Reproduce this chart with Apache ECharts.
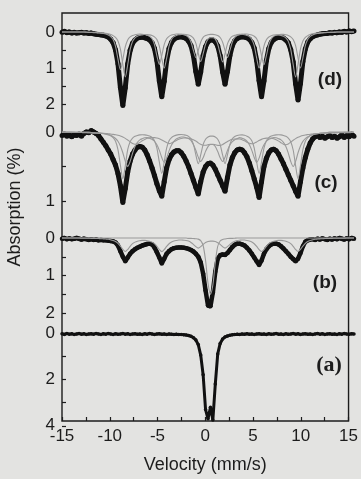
<!DOCTYPE html>
<html><head><meta charset="utf-8">
<script src="https://cdn.jsdelivr.net/npm/echarts@6/dist/echarts.min.js"></script>
<style>html,body{margin:0;padding:0;background:#e3e3e1;}#c{width:361px;height:479px;}</style>
</head><body><div id="c"></div>
<script>
const velocity = [
-15,-14.75,-14.5,-14.25,-14,-13.75,-13.5,-13.25,-13,-12.75,-12.5,-12.25,
-12,-11.75,-11.5,-11.25,-11,-10.75,-10.5,-10.25,-10,-9.75,-9.5,-9.25,
-9,-8.75,-8.5,-8.25,-8,-7.75,-7.5,-7.25,-7,-6.75,-6.5,-6.25,
-6,-5.75,-5.5,-5.25,-5,-4.75,-4.5,-4.25,-4,-3.75,-3.5,-3.25,
-3,-2.75,-2.5,-2.25,-2,-1.75,-1.5,-1.25,-1,-0.75,-0.5,-0.25,
0,0.25,0.5,0.75,1,1.25,1.5,1.75,2,2.25,2.5,2.75,
3,3.25,3.5,3.75,4,4.25,4.5,4.75,5,5.25,5.5,5.75,
6,6.25,6.5,6.75,7,7.25,7.5,7.75,8,8.25,8.5,8.75,
9,9.25,9.5,9.75,10,10.25,10.5,10.75,11,11.25,11.5,11.75,
12,12.25,12.5,12.75,13,13.25,13.5,13.75,14,14.25,14.5,14.75,15];
const xTicks = [-15,-10,-5,0,5,10,15];

// (d) spectrum and its two fitted sextets
const dData = [
0.01,-0.02,0.02,0.0, 0.03,0.01,0.03,0.02, 0.01,0.03,0.02,0.04,
0.03,0.05,0.06,0.07, 0.08,0.09,0.11,0.14, 0.2,0.3,0.5,0.88,
1.54,2.04,1.55,0.89, 0.51,0.31,0.22,0.17, 0.15,0.14,0.16,0.18,
0.22,0.3,0.46,0.79, 1.36,1.8,1.37,0.8, 0.46,0.29,0.2,0.16,
0.14,0.13,0.15,0.18, 0.25,0.38,0.65,1.1, 1.45,1.11,0.66,0.41,
0.27,0.22,0.22,0.27, 0.39,0.66,1.11,1.45, 1.1,0.65,0.38,0.24,
0.18,0.145,0.13,0.14, 0.16,0.2,0.29,0.45, 0.79,1.35,1.8,1.36,
0.79,0.46,0.29,0.21, 0.17,0.15,0.15,0.17, 0.22,0.3,0.49,0.83,
1.44,1.89,1.43,0.82, 0.47,0.28,0.19,0.13, 0.1,0.08,0.06,0.05,
0.04,0.04,0.02,0.03, 0.01,0.02,0.0,0.01, -0.02,0.0,-0.03,-0.01, -0.03];
const dFitInner = [
0,0,0,0, 0,0,0,0, 0,0,0,0.01,
0.01,0.01,0.015,0.02, 0.025,0.03,0.038,0.05, 0.069,0.1,0.15,0.25,
0.475,0.9,1.25,0.91, 0.49,0.26,0.16,0.12, 0.09,0.08,0.07,0.07,
0.08,0.1,0.135,0.21, 0.39,0.73,1.0,0.73, 0.39,0.21,0.13,0.095,
0.075,0.065,0.062,0.07, 0.084,0.11,0.17,0.31, 0.59,0.82,0.6,0.34,
0.2,0.16,0.16,0.2, 0.34,0.6,0.83,0.6, 0.33,0.19,0.12,0.094,
0.07,0.062,0.064,0.075, 0.096,0.13,0.21,0.38, 0.72,1.0,0.73,0.39,
0.215,0.14,0.105,0.085, 0.078,0.08,0.094,0.12, 0.165,0.26,0.485,0.9,
1.25,0.9,0.475,0.25, 0.15,0.1,0.069,0.05, 0.038,0.03,0.025,0.02,
0.015,0.01,0.01,0.01, 0,0,0,0, 0,0,0,0, 0];
const dFitOuter = [
0,0,0,0, 0,0,0,0, 0,0,0.005,0.01,
0.013,0.016,0.021,0.026, 0.032,0.042,0.058,0.084, 0.126,0.21,0.4,0.756,
1.05,0.76,0.41,0.22, 0.137,0.098,0.076,0.064, 0.059,0.062,0.071,0.088,
0.121,0.19,0.35,0.66, 0.9,0.655,0.35,0.19, 0.12,0.086,0.068,0.057,
0.055,0.061,0.074,0.098, 0.151,0.276,0.51,0.71, 0.51,0.28,0.15,0.1,
0.077,0.067,0.067,0.077, 0.1,0.154,0.28,0.51, 0.71,0.51,0.276,0.151,
0.098,0.074,0.061,0.055, 0.057,0.068,0.086,0.119, 0.188,0.35,0.655,0.91,
0.658,0.353,0.192,0.123, 0.092,0.075,0.066,0.067, 0.077,0.098,0.134,0.211,
0.38,0.72,1.0,0.72, 0.38,0.2,0.12,0.08, 0.055,0.04,0.03,0.025,
0.02,0.015,0.012,0.01, 0.01,0,0,0, 0,0,0,0, 0];

// (c) spectrum and three fitted sextets
const cData = [
0.05,0.03,0.06,0.04, 0.07,0.04,0.05,0.03, 0.06,0.02,0.0,0.01,
-0.02,0.0,0.02,0.05, 0.1,0.15,0.2,0.26, 0.32,0.4,0.48,0.6,
0.78,1.02,0.82,0.58, 0.42,0.32,0.26,0.22, 0.21,0.22,0.26,0.33,
0.42,0.52,0.63,0.75, 0.85,0.93,0.72,0.52, 0.4,0.33,0.29,0.27,
0.27,0.3,0.35,0.42, 0.5,0.6,0.7,0.8, 0.9,0.72,0.58,0.5,
0.46,0.45,0.48,0.54, 0.62,0.7,0.78,0.86, 0.66,0.48,0.37,0.3,
0.26,0.25,0.26,0.3, 0.36,0.45,0.56,0.68, 0.8,0.95,0.72,0.5,
0.38,0.3,0.26,0.25, 0.27,0.32,0.39,0.46, 0.54,0.62,0.7,0.78,
0.86,0.93,0.72,0.52, 0.37,0.25,0.16,0.1, 0.07,0.05,0.08,0.06,
0.09,0.07,0.05,0.08, 0.06,0.09,0.07,0.04, 0.08,0.05,0.07,0.03, 0.06];
const cFit1 = [
0,0,0,0, 0,0,0,0, 0,0,0,0,
0.008,0.015,0.015,0.015, 0.017,0.021,0.027,0.038, 0.054,0.081,0.135,0.255,
0.48,0.675,0.495,0.255, 0.141,0.089,0.063,0.05, 0.042,0.039,0.041,0.047,
0.059,0.08,0.126,0.233, 0.435,0.6,0.435,0.233, 0.126,0.08,0.057,0.045,
0.038,0.036,0.041,0.048, 0.063,0.098,0.177,0.33, 0.46,0.333,0.183,0.104,
0.072,0.06,0.06,0.072, 0.104,0.183,0.333,0.458, 0.33,0.179,0.098,0.066,
0.051,0.044,0.042,0.047, 0.06,0.081,0.128,0.233, 0.435,0.6,0.435,0.234,
0.128,0.081,0.059,0.047, 0.041,0.039,0.042,0.05, 0.063,0.089,0.141,0.261,
0.486,0.675,0.486,0.257, 0.135,0.081,0.054,0.038, 0.027,0.021,0.017,0.014,
0.011,0.008,0,0, 0,0,0,0, 0,0,0,0, 0];
const cFit2 = [
0.004,0.004,0.004,0.004, 0.006,0.006,0.007,0.007, 0.008,0.008,0.008,0.01,
0.011,0.013,0.014,0.017, 0.021,0.025,0.032,0.039, 0.049,0.069,0.094,0.133,
0.203,0.301,0.42,0.498, 0.426,0.307,0.21,0.15, 0.115,0.097,0.083,0.081,
0.091,0.105,0.134,0.185, 0.266,0.37,0.44,0.377, 0.273,0.189,0.136,0.099,
0.084,0.073,0.073,0.083, 0.095,0.123,0.186,0.265, 0.364,0.427,0.372,0.281,
0.211,0.181,0.181,0.211, 0.283,0.374,0.428,0.365, 0.266,0.188,0.139,0.112,
0.097,0.081,0.09,0.105, 0.133,0.185,0.266,0.37, 0.441,0.378,0.266,0.185,
0.134,0.105,0.091,0.081, 0.083,0.097,0.115,0.15, 0.21,0.307,0.427,0.5,
0.426,0.301,0.202,0.136, 0.095,0.07,0.049,0.039, 0.032,0.025,0.021,0.017,
0.014,0.013,0.011,0.01, 0.008,0.008,0.007,0.007, 0.006,0.006,0.004,0.004, 0.004];
const cFit3 = [
0.006,0.006,0.006,0.006, 0.006,0.007,0.007,0.008, 0.008,0.009,0.009,0.01,
0.012,0.013,0.014,0.016, 0.018,0.019,0.022,0.026, 0.029,0.034,0.04,0.048,
0.059,0.073,0.092,0.116, 0.143,0.167,0.178,0.172, 0.151,0.127,0.107,0.092,
0.085,0.082,0.082,0.088, 0.099,0.115,0.134,0.152, 0.168,0.16,0.142,0.122,
0.106,0.094,0.088,0.088, 0.091,0.098,0.112,0.131, 0.157,0.179,0.193,0.193,
0.184,0.177,0.177,0.184, 0.194,0.195,0.182,0.16, 0.138,0.119,0.106,0.101,
0.099,0.102,0.112,0.128, 0.147,0.164,0.171,0.163, 0.144,0.124,0.107,0.095,
0.089,0.087,0.09,0.098, 0.112,0.132,0.155,0.177, 0.184,0.173,0.147,0.12,
0.096,0.076,0.063,0.052, 0.043,0.037,0.032,0.029, 0.025,0.023,0.02,0.019,
0.017,0.015,0.014,0.013, 0.013,0.012,0.011,0.01, 0.01,0.009,0.009,0.008, 0.008];

// (b) spectrum, fitted sextet and central doublet
const bData = [
0.02,0.0,0.03,0.01, 0.03,0.02,0.0,0.02, 0.04,0.02,0.03,0.05,
0.03,0.05,0.04,0.06, 0.05,0.06,0.06,0.07, 0.08,0.09,0.12,0.2,
0.35,0.5,0.62,0.52, 0.42,0.35,0.3,0.26, 0.23,0.2,0.18,0.16,
0.15,0.17,0.25,0.38, 0.52,0.68,0.55,0.42, 0.35,0.3,0.27,0.26,
0.25,0.25,0.26,0.27, 0.29,0.32,0.36,0.42, 0.5,0.65,0.95,1.4,
1.8,1.82,1.45,0.9, 0.55,0.46,0.44,0.45, 0.4,0.32,0.24,0.18,
0.15,0.15,0.17,0.2, 0.26,0.33,0.42,0.52, 0.62,0.72,0.6,0.42,
0.3,0.22,0.17,0.15, 0.15,0.17,0.22,0.28, 0.35,0.42,0.5,0.56,
0.62,0.55,0.4,0.22, 0.1,0.06,0.04,0.03, 0.05,0.02,0.04,0.01,
0.03,0.05,0.02,0.04, 0.01,0.03,0.0,0.02, 0.04,0.01,0.03,0.0, 0.02];
const bFitSextet = [
0,0,0,0, 0,0,0,0, 0.005,0.006,0.007,0.008,
0.009,0.011,0.012,0.015, 0.018,0.023,0.028,0.035, 0.049,0.067,0.095,0.145,
0.216,0.305,0.358,0.307, 0.221,0.152,0.11,0.085, 0.072,0.063,0.063,0.072,
0.085,0.11,0.152,0.221, 0.307,0.364,0.311,0.224, 0.154,0.105,0.079,0.065,
0.055,0.053,0.058,0.065, 0.082,0.118,0.169,0.23, 0.269,0.232,0.172,0.12,
0.093,0.083,0.083,0.093, 0.125,0.172,0.232,0.269, 0.23,0.169,0.118,0.088,
0.066,0.058,0.053,0.055, 0.065,0.08,0.105,0.154, 0.224,0.311,0.358,0.307,
0.221,0.152,0.11,0.085, 0.072,0.063,0.063,0.072, 0.085,0.11,0.152,0.221,
0.307,0.358,0.305,0.216, 0.145,0.095,0.067,0.049, 0.035,0.028,0.023,0.018,
0.015,0.012,0.011,0.009, 0.008,0.007,0.006,0.005, 0.004,0,0,0, 0];
const bFitDoublet = [
0,0,0,0, 0,0,0,0, 0,0,0,0,
0,0,0,0, 0,0,0,0, 0,0,0,0,
0,0,0,0, 0,0,0,0, 0,0,0,0,
0,0,0,0, 0,0,0,0, 0,0,0,0,
0,0,0,0, 0.01,0.01,0.015,0.02, 0.03,0.07,0.2,0.6,
1.2,1.5,1.25,0.65, 0.22,0.08,0.04,0.025, 0.015,0.01,0.01,0.005,
0,0,0,0, 0,0,0,0, 0,0,0,0,
0,0,0,0, 0,0,0,0, 0,0,0,0,
0,0,0,0, 0,0,0,0, 0,0,0,0,
0,0,0,0, 0,0,0,0, 0,0,0,0, 0];

// (a) spectrum
const aData = [
0.03,0.06,0.02,0.05, 0.03,0.06,0.04,0.02, 0.05,0.03,0.06,0.04,
0.03,0.05,0.02,0.04, 0.06,0.03,0.05,0.02, 0.04,0.06,0.03,0.05,
0.04,0.02,0.05,0.03, 0.06,0.04,0.03,0.05, 0.04,0.06,0.03,0.05,
0.02,0.04,0.06,0.04, 0.03,0.05,0.04,0.06, 0.04,0.05,0.06,0.05,
0.07,0.06,0.08,0.09, 0.11,0.14,0.2,0.3, 0.5,0.95,1.8,3.3,
3.7,3.2,3.75,2.2, 0.9,0.45,0.26,0.17, 0.13,0.1,0.08,0.07,
0.05,0.06,0.04,0.05, 0.03,0.05,0.04,0.06, 0.04,0.03,0.05,0.04,
0.06,0.03,0.05,0.04, 0.02,0.05,0.04,0.06, 0.03,0.05,0.04,0.02,
0.05,0.03,0.06,0.04, 0.03,0.05,0.04,0.06, 0.04,0.02,0.05,0.03,
0.06,0.04,0.03,0.05, 0.04,0.06,0.03,0.05, 0.02,0.04,0.05,0.03, 0.04];

const dLabels = [0,1,2], dTicks = [0,0.5,1,1.5,2];
const cLabels = [0,1], cTicks = [0,0.5,1];
const bLabels = [0,1,2], bTicks = [0,0.5,1,1.5,2];
const aLabels = [0,2,4], aTicks = [0,1,2,3,4];
const panelNames = ['(d)','(c)','(b)','(a)'];

const chart = echarts.init(document.getElementById('c'), null, {renderer:'canvas'});
const pts = arr => velocity.map((v,i)=>[v,arr[i]]);
const FONT = 'Liberation Sans, Arial, sans-serif';
const INK = '#1c1c1c';
const L = 62, W = 292;
const panels = [
  {top:14, height:108, min:-0.5, max:2.5, labels:dLabels, ticks:dTicks},
  {top:118.2, height:117.3, min:-0.2, max:1.5, labels:cLabels, ticks:cTicks},
  {top:230.5, height:93.75, min:-0.2, max:2.3, labels:bLabels, ticks:bTicks},
  {top:321.4, height:104.4, min:-0.5, max:4, labels:aLabels, ticks:aTicks}
];
const grids = [{left:L, top:13, width:W, height:413, show:true, borderColor:INK, borderWidth:1.4, backgroundColor:'transparent'}];
const xAxes = [{gridIndex:0, type:'value', min:-15, max:15, interval:5,
  axisLine:{show:false, onZero:false}, splitLine:{show:false},
  axisTick:{inside:true, length:4, lineStyle:{color:INK, width:1.2}},
  minorTick:{show:true, splitNumber:2, length:4, lineStyle:{color:INK, width:1.2}},
  axisLabel:{color:INK, fontSize:17, fontFamily:FONT, margin:7, customValues:xTicks},
  name:'Velocity (mm/s)', nameLocation:'middle', nameGap:35,
  nameTextStyle:{color:INK, fontSize:18, fontFamily:FONT}}];
const yAxes = [{gridIndex:0, type:'value', min:0, max:1, show:false}];
panels.forEach((p,k)=>{
  grids.push({left:L, width:W, top:p.top, height:p.height});
  xAxes.push({gridIndex:k+1, type:'value', min:-15, max:15, show:false});
  yAxes.push({gridIndex:k+1, type:'value', inverse:true, min:p.min, max:p.max, position:'left',
    axisLine:{show:false, onZero:false}, splitLine:{show:false},
    axisTick:{show:true, inside:true, length:4, customValues:p.ticks, lineStyle:{color:INK, width:1.2}},
    axisLabel:{color:INK, fontSize:17, fontFamily:FONT, margin:7, customValues:p.labels}});
});
const dataLine = (idx, arr, w, s) => ({type:'line', xAxisIndex:idx, yAxisIndex:idx, data:pts(arr),
  showSymbol:true, showAllSymbol:true, symbol:'circle', symbolSize:s, itemStyle:{color:'#111'},
  lineStyle:{color:'#111', width:w}, silent:true, animation:false, z:2});
const fitLine = (idx, arr) => ({type:'line', xAxisIndex:idx, yAxisIndex:idx, data:pts(arr),
  showSymbol:false, smooth:0.3, lineStyle:{color:'#9a9a9a', width:1.1}, silent:true, animation:false, z:3});
const series = [
  dataLine(1,dData,5,5), fitLine(1,dFitInner), fitLine(1,dFitOuter),
  dataLine(2,cData,5,5), fitLine(2,cFit1), fitLine(2,cFit2), fitLine(2,cFit3),
  dataLine(3,bData,4.5,4.5), fitLine(3,bFitSextet), fitLine(3,bFitDoublet),
  dataLine(4,aData,3,3.5)
];
const labelPos = [[330,80,'bold 19px '+FONT],[326,183,'bold 19px '+FONT],[325,283,'bold 19px '+FONT],[329,365,'bold 22px Liberation Serif, Times New Roman, serif']];
const graphic = panelNames.map((t,i)=>({type:'text', x:labelPos[i][0], y:labelPos[i][1],
  style:{text:t, font:labelPos[i][2], fill:INK, textAlign:'center', textVerticalAlign:'middle'}}));
graphic.push({type:'text', x:15, y:207, rotation:Math.PI/2,
  style:{text:'Absorption (%)', font:'18px '+FONT, fill:INK, textAlign:'center', textVerticalAlign:'middle'}});
chart.setOption({backgroundColor:'#e3e3e1', animation:false, grid:grids, xAxis:xAxes, yAxis:yAxes, series:series, graphic:graphic});
</script></body></html>
